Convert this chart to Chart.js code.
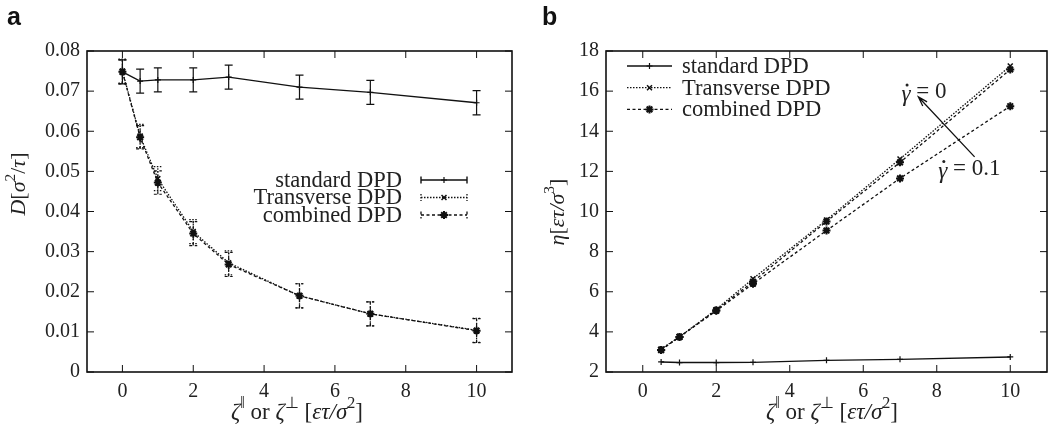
<!DOCTYPE html>
<html>
<head>
<meta charset="utf-8">
<script src="https://cdn.jsdelivr.net/npm/chart.js@4.4.1/dist/chart.umd.min.js"></script>
<style>
body { margin: 0; background: #fff; width: 1055px; height: 437px; overflow: hidden; position: relative; }
.panel { position: absolute; top: 0; }
.tag { position: absolute; font: bold 25px "Liberation Sans", Arial, sans-serif; line-height: 1; color: #111; }
</style>
</head>
<body>
<div class="panel" style="left:0"><canvas id="chartA" width="527" height="437"></canvas></div>
<div class="panel" style="left:527px"><canvas id="chartB" width="528" height="437"></canvas></div>
<div class="tag" style="left:7px;top:4px">a</div>
<div class="tag" style="left:542px;top:4px">b</div>
<script>
// Panel a: diffusion coefficient
const xsA = [0, 0.5, 1, 2, 3, 5, 7, 10];
const stdA = [0.0748, 0.0725, 0.0728, 0.0728, 0.0735, 0.0710, 0.0697, 0.0671];
const stdErrA = [0.0030, 0.0030, 0.0030, 0.0030, 0.0030, 0.0030, 0.0030, 0.0030];
const trA = [0.0750, 0.0588, 0.0482, 0.0350, 0.0272, 0.0190, 0.0145, 0.0104];
const trErrA = [0.0030, 0.0029, 0.0030, 0.0030, 0.0030, 0.0030, 0.0030, 0.0030];
const coA = [0.0748, 0.0585, 0.0472, 0.0345, 0.0268, 0.0190, 0.0145, 0.0103];
const coErrA = [0.0030, 0.0029, 0.0029, 0.0030, 0.0030, 0.0030, 0.0030, 0.0030];
const xTicksA = [0, 2, 4, 6, 8, 10];
const yTicksA = [0, 0.01, 0.02, 0.03, 0.04, 0.05, 0.06, 0.07, 0.08];

// Panel b: viscosity
const xsB = [0.5, 1, 2, 3, 5, 7, 10];
const stdB = [2.50, 2.47, 2.47, 2.48, 2.58, 2.63, 2.75];
const trB0 = [3.15, 3.75, 5.12, 6.65, 9.58, 12.62, 17.25];
const coB0 = [3.10, 3.75, 5.08, 6.50, 9.50, 12.45, 17.08];
const coB1 = [3.10, 3.75, 5.05, 6.40, 9.05, 11.65, 15.25];
const xTicksB = [0, 2, 4, 6, 8, 10];
const yTicksB = [2, 4, 6, 8, 10, 12, 14, 16, 18];

const labels = ['standard DPD', 'Transverse DPD', 'combined DPD'];
const gammaValues = ['0', '0.1'];
const arrowFrom = [9.03, 12.72];
const arrowTo = [7.5, 15.71];
const gammaPos = [[7.04, 15.96], [8.04, 12.14]];

const INK = '#111';
const SERIF = '"Liberation Serif", serif';

Chart.defaults.font.family = SERIF;
Chart.defaults.color = '#222';

const pts = (xs, ys) => xs.map((x, i) => ({x: x, y: ys[i]}));

function style(kind) {
    if (kind === 0) return {borderWidth: 1.4, borderDash: [], pointStyle: 'cross', pointRadius: 3, pointBorderWidth: 1.2};
    if (kind === 1) return {borderWidth: 1.3, borderDash: [1.5, 1.5], pointStyle: 'crossRot', pointRadius: 3.5, pointBorderWidth: 1.5};
    return {borderWidth: 1.3, borderDash: [3, 2.5], pointStyle: 'star', pointRadius: 4, pointBorderWidth: 2};
}

function dataset(kind, data, errors, legendRow) {
    return Object.assign({
        label: labels[kind], data: data, errors: errors, legendRow: legendRow,
        showLine: true, borderColor: INK, pointBorderColor: INK, backgroundColor: INK
    }, style(kind));
}

function drawRich(ctx, parts, cx, cy, size, rot) {
    ctx.save();
    ctx.translate(cx, cy);
    if (rot) ctx.rotate(rot);
    const fontOf = p => (p.i ? 'italic ' : '') + (p.s ? size * 0.7 : size) + 'px ' + SERIF;
    let w = 0;
    parts.forEach(p => { ctx.font = fontOf(p); w += ctx.measureText(p.t).width; });
    let x = -w / 2;
    ctx.textBaseline = 'middle';
    ctx.textAlign = 'left';
    ctx.fillStyle = '#222';
    parts.forEach(p => {
        ctx.font = fontOf(p);
        ctx.fillText(p.t, x, p.s ? -size * 0.38 : 0);
        x += ctx.measureText(p.t).width;
    });
    ctx.restore();
}

const xTitle = [
    {t: '\u03B6', i: 1}, {t: '\u2016', s: 1}, {t: ' or '}, {t: '\u03B6', i: 1}, {t: '\u22A5', s: 1},
    {t: ' ['}, {t: '\u03B5\u03C4/\u03C3', i: 1}, {t: '2', s: 1}, {t: ']'}
];
const yTitleA = [{t: 'D', i: 1}, {t: '['}, {t: '\u03C3', i: 1}, {t: '2', s: 1}, {t: '/'}, {t: '\u03C4', i: 1}, {t: ']'}];
const yTitleB = [{t: '\u03B7', i: 1}, {t: '['}, {t: '\u03B5\u03C4/\u03C3', i: 1}, {t: '3', s: 1}, {t: ']'}];

const gnu = {
    id: 'gnu',
    afterDatasetsDraw(chart) {
        const {ctx, scales: {x, y}} = chart;
        chart.data.datasets.forEach(ds => {
            if (!ds.errors) return;
            ctx.save();
            ctx.strokeStyle = INK;
            ctx.lineWidth = 1.2;
            ctx.setLineDash(ds.borderDash);
            ds.data.forEach((p, j) => {
                const px = x.getPixelForValue(p.x);
                const y1 = y.getPixelForValue(p.y - ds.errors[j]);
                const y2 = y.getPixelForValue(p.y + ds.errors[j]);
                ctx.beginPath();
                ctx.moveTo(px, y1); ctx.lineTo(px, y2);
                ctx.moveTo(px - 4, y1); ctx.lineTo(px + 4, y1);
                ctx.moveTo(px - 4, y2); ctx.lineTo(px + 4, y2);
                ctx.stroke();
            });
            ctx.restore();
        });
    },
    afterDraw(chart, args, opts) {
        const {ctx, chartArea: a, scales: {x, y}} = chart;
        ctx.save();
        ctx.strokeStyle = INK;
        ctx.lineWidth = 1;
        ctx.beginPath();
        x.ticks.forEach(t => {
            const px = x.getPixelForValue(t.value);
            ctx.moveTo(px, a.bottom); ctx.lineTo(px, a.bottom - 7);
            ctx.moveTo(px, a.top); ctx.lineTo(px, a.top + 7);
        });
        y.ticks.forEach(t => {
            const py = y.getPixelForValue(t.value);
            ctx.moveTo(a.left, py); ctx.lineTo(a.left + 7, py);
            ctx.moveTo(a.right, py); ctx.lineTo(a.right - 7, py);
        });
        ctx.stroke();
        ctx.lineWidth = 1.6;
        ctx.strokeRect(a.left, a.top, a.right - a.left, a.bottom - a.top);

        // legend
        chart.data.datasets.forEach(ds => {
            if (ds.legendRow === undefined) return;
            let x0, x1, ty, tx, align;
            if (opts.legend === 'a') {
                ty = a.top + 129 + ds.legendRow * 17.5;
                x0 = a.right - 91; x1 = a.right - 45;
                tx = a.right - 110; align = 'right';
            } else {
                ty = a.top + 15 + ds.legendRow * 21.7;
                x0 = a.left + 21; x1 = a.left + 66;
                tx = a.left + 76; align = 'left';
            }
            ctx.save();
            ctx.strokeStyle = INK;
            ctx.lineWidth = ds.borderWidth;
            ctx.setLineDash(ds.borderDash);
            ctx.beginPath();
            ctx.moveTo(x0, ty); ctx.lineTo(x1, ty);
            if (opts.legend === 'a') {
                ctx.moveTo(x0, ty - 3.5); ctx.lineTo(x0, ty + 3.5);
                ctx.moveTo(x1, ty - 3.5); ctx.lineTo(x1, ty + 3.5);
            }
            ctx.stroke();
            ctx.setLineDash([]);
            ctx.fillStyle = INK;
            ctx.lineWidth = ds.pointBorderWidth;
            Chart.helpers.drawPoint(ctx, {pointStyle: ds.pointStyle, radius: ds.pointRadius, rotation: 0, borderWidth: ds.pointBorderWidth}, (x0 + x1) / 2, ty);
            ctx.restore();
            ctx.fillStyle = '#222';
            ctx.font = '22.5px ' + SERIF;
            ctx.textAlign = align;
            ctx.textBaseline = 'middle';
            ctx.fillText(ds.label, tx, ty + 1);
        });

        // axis titles
        drawRich(ctx, xTitle, opts.xTitleX, 413, 23, 0);
        drawRich(ctx, opts.yTitle, opts.yTitleX, opts.yTitleY, 22, -Math.PI / 2);

        // shear rate annotation
        if (opts.gamma) {
            const fx = x.getPixelForValue(arrowFrom[0]), fy = y.getPixelForValue(arrowFrom[1]);
            const hx = x.getPixelForValue(arrowTo[0]), hy = y.getPixelForValue(arrowTo[1]);
            const ang = Math.atan2(hy - fy, hx - fx);
            ctx.lineWidth = 1.3;
            ctx.beginPath();
            ctx.moveTo(fx, fy); ctx.lineTo(hx, hy);
            ctx.moveTo(hx - 10 * Math.cos(ang - 0.3), hy - 10 * Math.sin(ang - 0.3));
            ctx.lineTo(hx, hy);
            ctx.lineTo(hx - 10 * Math.cos(ang + 0.3), hy - 10 * Math.sin(ang + 0.3));
            ctx.stroke();
            ctx.fillStyle = '#222';
            ctx.textAlign = 'left';
            ctx.textBaseline = 'middle';
            gammaValues.forEach((g, i) => {
                const gx = x.getPixelForValue(gammaPos[i][0]), gy = y.getPixelForValue(gammaPos[i][1]);
                ctx.font = 'italic 23px ' + SERIF;
                ctx.fillText('\u03B3', gx, gy + 3);
                const w = ctx.measureText('\u03B3').width;
                ctx.beginPath();
                ctx.arc(gx + w * 0.62, gy - 7, 1.5, 0, Math.PI * 2);
                ctx.fill();
                ctx.font = '23px ' + SERIF;
                ctx.fillText(' = ' + g, gx + w, gy);
            });
        }
        ctx.restore();
    }
};

function axis(min, max, ticks, fmt, fit) {
    return {
        type: 'linear', min: min, max: max,
        afterBuildTicks: s => { s.ticks = ticks.map(v => ({value: v})); },
        afterFit: fit,
        grid: {display: false, drawTicks: false},
        border: {display: false},
        ticks: {
            autoSkip: false, maxRotation: 0, color: '#222',
            font: {family: SERIF, size: 20, style: 'normal'},
            callback: fmt
        }
    };
}

function options(padRight, yWidth, xT, yMin, yMax, yT, yFmt, gnuOpts) {
    const xs = axis(-1, 11, xT, v => String(v), s => { s.height = 65; });
    xs.ticks.padding = 8;
    const ys = axis(yMin, yMax, yT, yFmt, s => { s.width = yWidth; });
    ys.ticks.padding = 7;
    return {
        responsive: false,
        animation: false,
        layout: {padding: {left: 0, right: padRight, top: 51, bottom: 0}},
        plugins: {legend: {display: false}, tooltip: {enabled: false}, gnu: gnuOpts},
        scales: {x: xs, y: ys}
    };
}

new Chart(document.getElementById('chartA'), {
    type: 'scatter',
    data: {
        datasets: [
            dataset(0, pts(xsA, stdA), stdErrA, 0),
            dataset(1, pts(xsA, trA), trErrA, 1),
            dataset(2, pts(xsA, coA), coErrA, 2)
        ]
    },
    options: options(15, 87, xTicksA, 0, 0.08, yTicksA, v => v === 0 ? '0' : v.toFixed(2),
        {legend: 'a', xTitleX: 297, yTitle: yTitleA, yTitleX: 19, yTitleY: 184, gamma: false}),
    plugins: [gnu]
});

new Chart(document.getElementById('chartB'), {
    type: 'scatter',
    data: {
        datasets: [
            dataset(0, pts(xsB, stdB), null, 0),
            dataset(1, pts(xsB, trB0), null, 1),
            dataset(2, pts(xsB, coB0), null, 2),
            dataset(2, pts(xsB, coB1), null, undefined)
        ]
    },
    options: options(8, 79, xTicksB, 2, 18, yTicksB, v => String(v),
        {legend: 'b', xTitleX: 305, yTitle: yTitleB, yTitleX: 31, yTitleY: 212, gamma: true}),
    plugins: [gnu]
});
</script>
</body>
</html>
